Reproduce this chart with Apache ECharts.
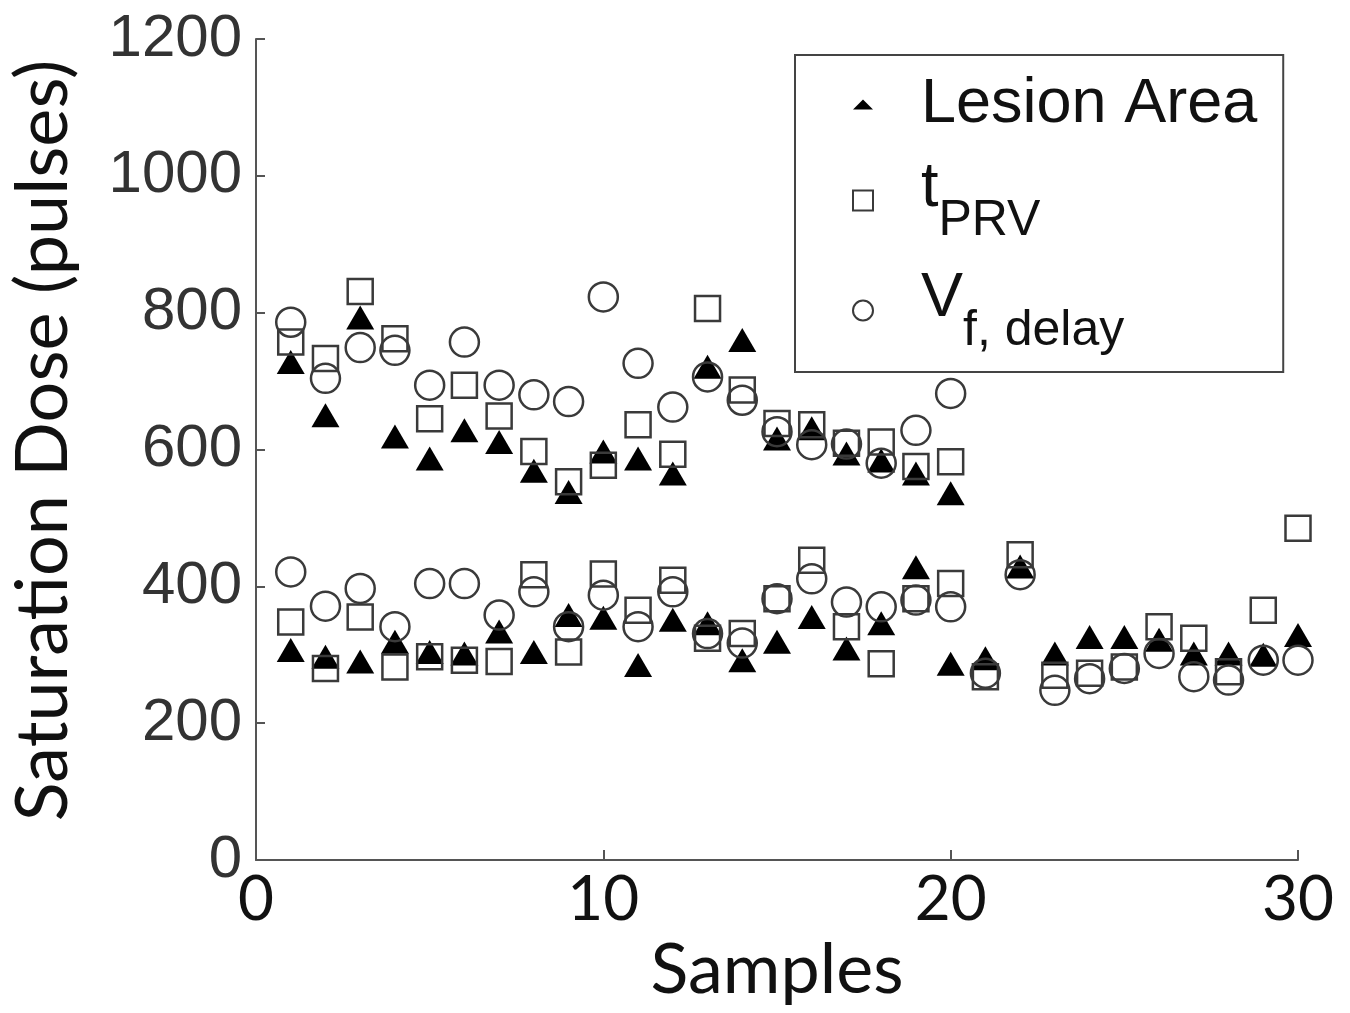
<!DOCTYPE html>
<html>
<head>
<meta charset="utf-8">
<script src="https://cdn.jsdelivr.net/npm/echarts@6/dist/echarts.min.js"></script>
<style>
html,body{margin:0;padding:0;background:#fff;}
#chart{width:1350px;height:1013px;}
</style>
</head>
<body>
<div id="chart"></div>
<script>
// Samples 1-20 have two measurements (upper and lower cluster); samples 21-30 only the lower one.
var samplesUpper = [1,2,3,4,5,6,7,8,9,10,11,12,13,14,15,16,17,18,19,20];
var samplesLower = [1,2,3,4,5,6,7,8,9,10,11,12,13,14,15,16,17,18,19,20,21,22,23,24,25,26,27,28,29,30];

var lesionUpper = [728,650,793,619,587,628,611,569,538,597,587,565,721,760,616,631,594,584,565,536];
var tprvUpper   = [757,733,831,762,645,694,649,597,553,577,636,593,806,687,638,636,609,611,575,582];
var vfUpper     = [786,704,749,745,694,757,694,680,670,823,726,662,706,672,626,607,608,580,628,682];

var lesionLower = [307,297,290,319,304,302,334,304,358,354,285,351,346,292,319,355,309,346,428,287,295,429,302,326,326,322,302,302,300,329];
var tprvLower   = [348,280,355,282,297,292,290,417,304,418,365,409,324,331,382,438,341,287,382,404,268,446,270,273,282,341,324,275,365,485];
var vfLower     = [421,371,397,341,404,404,358,392,341,387,341,392,331,317,382,411,377,370,380,370,273,417,248,265,280,302,268,263,292,292];

var seriesNames = ['Lesion Area', 'tPRV', 'Vf, delay'];
var xTicks = [0, 10, 20, 30];
var yTicks = [0, 200, 400, 600, 800, 1000, 1200];

function pairs(xs, ys) {
  var out = [];
  for (var i = 0; i < ys.length; i++) out.push([xs[i], ys[i]]);
  return out;
}

var lesionData = pairs(samplesUpper, lesionUpper).concat(pairs(samplesLower, lesionLower));
var tprvData = pairs(samplesUpper, tprvUpper).concat(pairs(samplesLower, tprvLower));
var vfData = pairs(samplesUpper, vfUpper).concat(pairs(samplesLower, vfLower));

var chart = echarts.init(document.getElementById('chart'), null, {renderer: 'canvas'});
var axisGray = '#555';
var markerGray = '#3a3a3a';

var option = {
  backgroundColor: '#fff',
  animation: false,
  grid: {left: 255, right: 52, top: 39, bottom: 153, containLabel: false},
  xAxis: {
    type: 'value', min: xTicks[0], max: xTicks[xTicks.length - 1], interval: 10,
    name: 'Samples', nameLocation: 'middle', nameGap: 70,
    nameTextStyle: {fontFamily: 'Lato', fontSize: 70, color: '#111'},
    axisLine: {show: true, lineStyle: {color: axisGray, width: 2}},
    axisTick: {show: true, inside: true, length: 10, lineStyle: {color: axisGray, width: 2}},
    axisLabel: {fontFamily: 'Lato', fontSize: 62, color: '#111', margin: 9},
    splitLine: {show: false}
  },
  yAxis: {
    type: 'value', min: yTicks[0], max: yTicks[yTicks.length - 1], interval: 200,
    name: 'Saturation Dose (pulses)', nameLocation: 'middle', nameGap: 176, nameRotate: 90,
    nameTextStyle: {fontFamily: 'Lato', fontSize: 72, color: '#111', padding: [0, 0, 0, 18]},
    axisLine: {show: true, lineStyle: {color: axisGray, width: 2}},
    axisTick: {show: true, inside: true, length: 9, lineStyle: {color: axisGray, width: 2}},
    axisLabel: {fontFamily: 'Liberation Sans', fontSize: 60, color: '#333', margin: 14,
      formatter: function (v) { return String(v); }},
    splitLine: {show: false}
  },
  legend: {
    orient: 'vertical', left: 795, top: 55,
    padding: [18, 26, 16, 57],
    itemWidth: 20, itemHeight: 20, itemGap: 19,
    borderColor: '#444', borderWidth: 2, backgroundColor: '#fff',
    selectedMode: false,
    data: [
      {name: seriesNames[0], icon: 'path://M1,0 L2,1 L0,1 Z', itemStyle: {color: '#000', borderWidth: 0}},
      {name: seriesNames[1], icon: 'rect', itemStyle: {color: 'rgba(0,0,0,0)', borderColor: markerGray, borderWidth: 2}},
      {name: seriesNames[2], icon: 'circle', itemStyle: {color: 'rgba(0,0,0,0)', borderColor: markerGray, borderWidth: 2}}
    ],
    formatter: function (name) {
      if (name === 'tPRV') return '{m|t}{s|PRV}';
      if (name === 'Vf, delay') return '{m|V}{s|f, delay}';
      return '{a|' + name + '}';
    },
    textStyle: {
      color: '#111',
      rich: {
        a: {fontFamily: 'Liberation Sans', fontSize: 63, lineHeight: 40, padding: [0, 0, 0, 43], verticalAlign: 'middle', color: '#111'},
        m: {fontFamily: 'Liberation Sans', fontSize: 63, lineHeight: 40, padding: [0, 0, 23, 43], verticalAlign: 'middle', color: '#111'},
        s: {fontFamily: 'Liberation Sans', fontSize: 50, lineHeight: 40, padding: [41, 0, 0, 0], verticalAlign: 'middle', color: '#111'}
      }
    }
  },
  series: [
    {
      name: seriesNames[0], type: 'scatter', data: lesionData,
      symbol: 'triangle', symbolSize: [28, 24],
      itemStyle: {color: '#000', opacity: 1}
    },
    {
      name: seriesNames[1], type: 'scatter', data: tprvData,
      symbol: 'rect', symbolSize: 25,
      itemStyle: {color: 'rgba(0,0,0,0)', borderColor: markerGray, borderWidth: 2.5, opacity: 1}
    },
    {
      name: seriesNames[2], type: 'scatter', data: vfData,
      symbol: 'circle', symbolSize: 29,
      itemStyle: {color: 'rgba(0,0,0,0)', borderColor: markerGray, borderWidth: 2.5, opacity: 1}
    }
  ]
};
chart.setOption(option);
</script>
</body>
</html>
